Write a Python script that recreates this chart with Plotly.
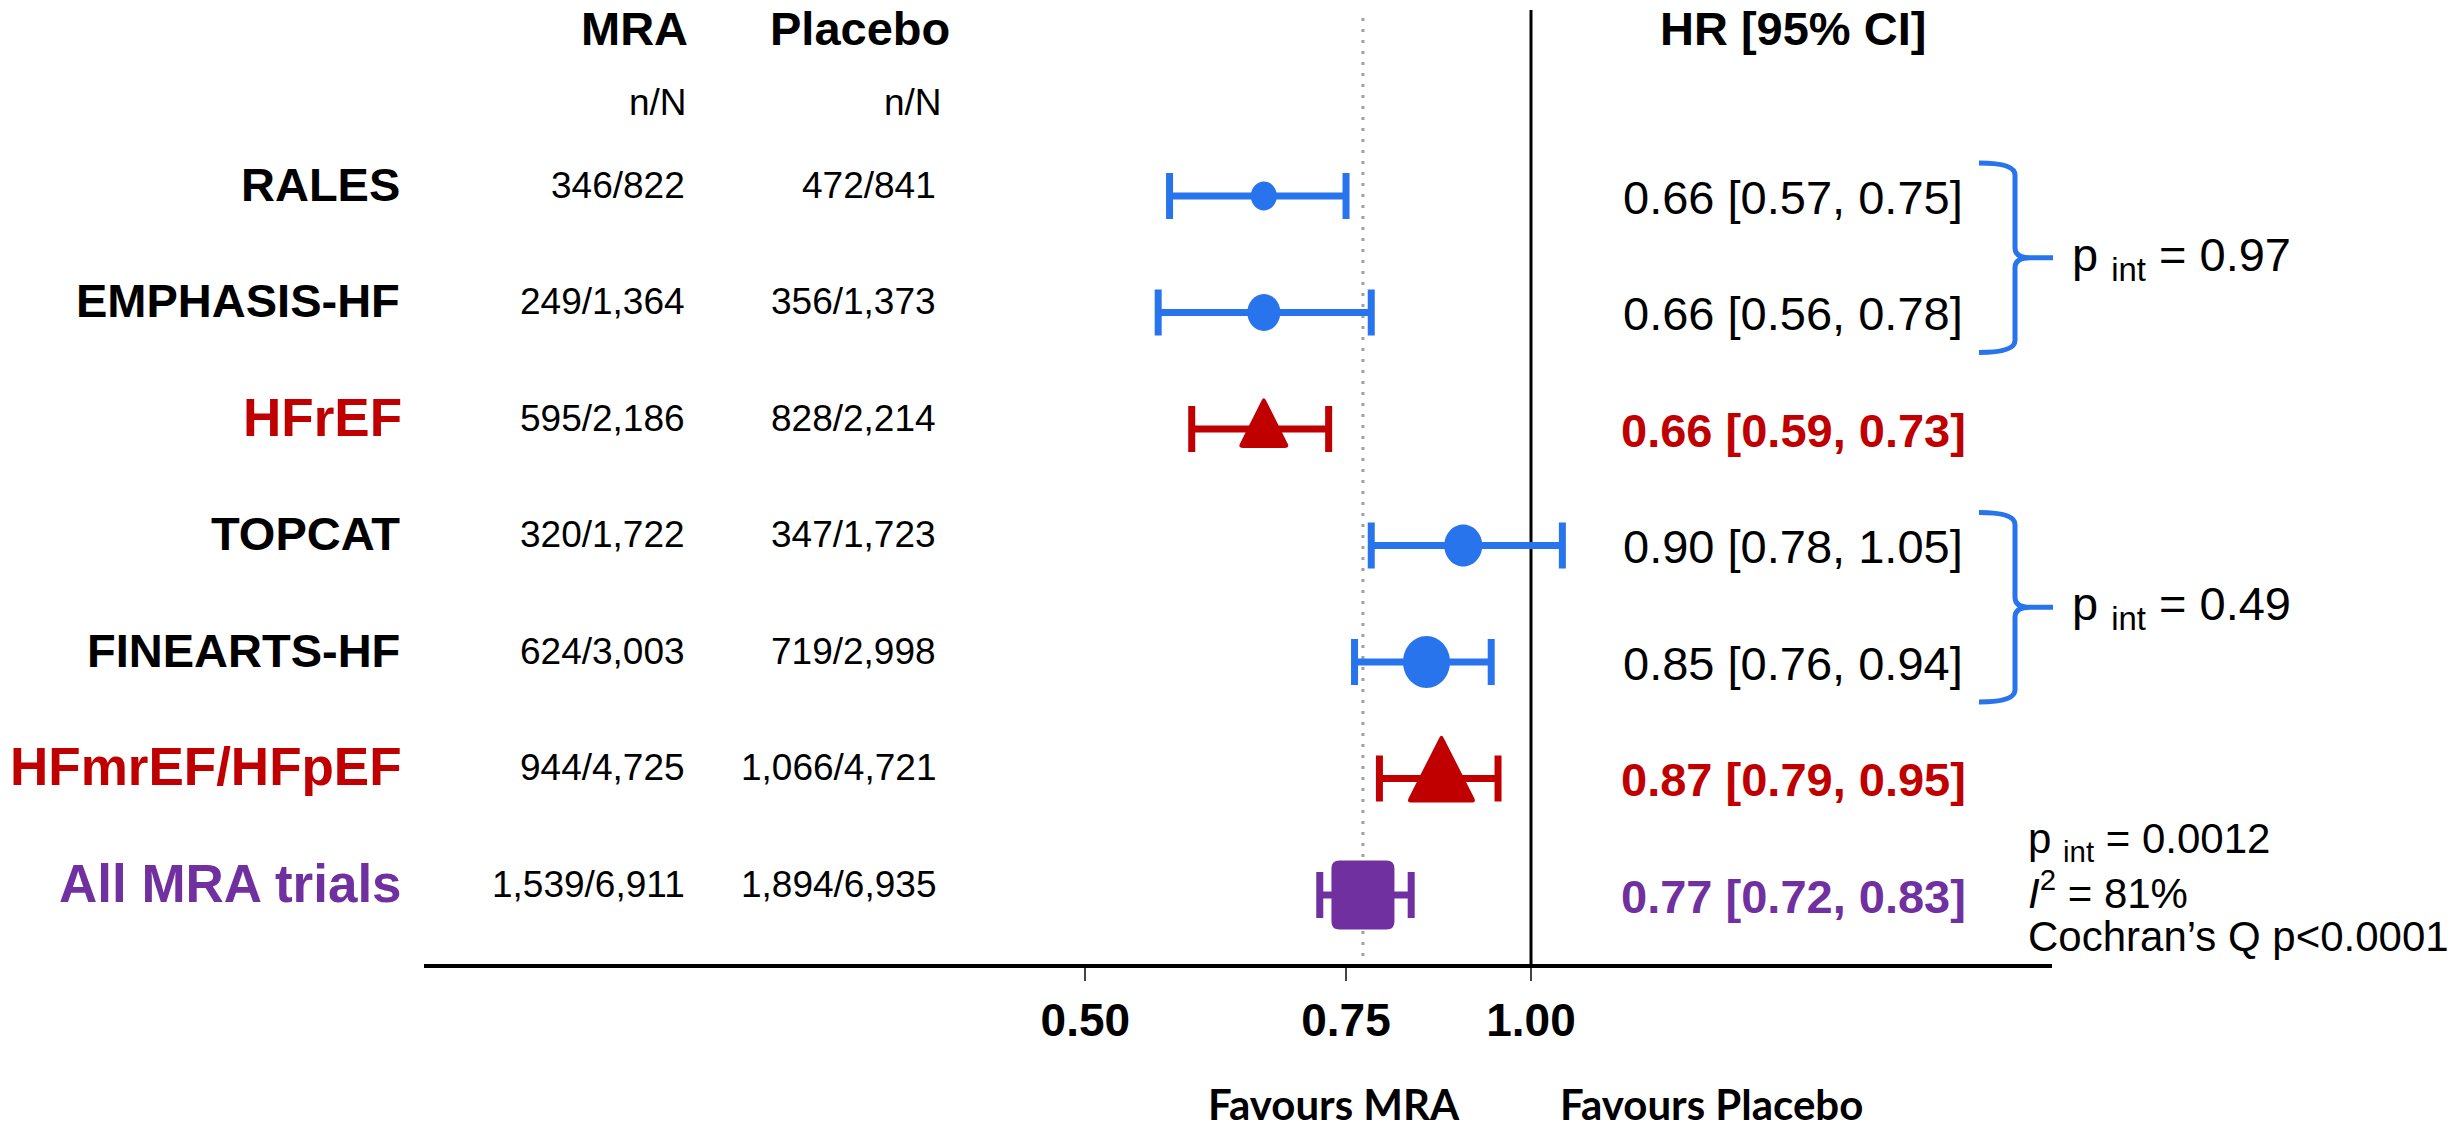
import plotly.graph_objects as go
import math

# ---------------- data ----------------
labels = ["RALES", "EMPHASIS-HF", "HFrEF", "TOPCAT", "FINEARTS-HF", "HFmrEF/HFpEF", "All MRA trials"]
mra_nN = ["346/822", "249/1,364", "595/2,186", "320/1,722", "624/3,003", "944/4,725", "1,539/6,911"]
placebo_nN = ["472/841", "356/1,373", "828/2,214", "347/1,723", "719/2,998", "1,066/4,721", "1,894/6,935"]
hr = [0.66, 0.66, 0.66, 0.90, 0.85, 0.87, 0.77]
ci_low = [0.57, 0.56, 0.59, 0.78, 0.76, 0.79, 0.72]
ci_high = [0.75, 0.78, 0.73, 1.05, 0.94, 0.95, 0.83]
row_kind = ["trial", "trial", "pooled", "trial", "trial", "pooled", "overall"]
p_int_groups = [(0, 1, "0.97"), (3, 4, "0.49")]
overall_stats = ["p <sub>int</sub> = 0.0012", "<i>I</i><sup>2</sup> = 81%", "Cochran’s Q p&lt;0.0001"]
tick_vals = [0.50, 0.75, 1.00]
tick_text = ["0.50", "0.75", "1.00"]

# ---------------- styles ----------------
W, H = 2456, 1133
ROW0, STEP = 196, 116.5
BLUE, RED, PURPLE = "#2874EC", "#C00000", "#7030A0"
kind_color = {"trial": BLUE, "pooled": RED, "overall": PURPLE}
label_color = {"trial": "black", "pooled": RED, "overall": PURPLE}
FONT = "Liberation Sans, Arial, sans-serif"
# marker half-width, half-height (px) per row; triangles: (half-width, top, bottom)
marker_dims = [(13, 14.5), (16.5, 18.5), (26, 33, 19), (19, 21), (23.5, 26), (35, 45, 24), (31.5, 34.5)]

PX_PER_LOG10 = 643 * math.log(10)
X_ONE = 1531
xrange_ = [-X_ONE / PX_PER_LOG10, (W - X_ONE) / PX_PER_LOG10]
yrange_ = [(H - ROW0) / STEP, -ROW0 / STEP]


def px_x(p):
    return p / W


def px_y(p):
    return 1 - p / H


def row_px(i):
    return ROW0 + STEP * i


def rounded_poly(pts, r):
    n = len(pts)
    out = []
    for k in range(n):
        p0, p1, p2 = pts[k - 1], pts[k], pts[(k + 1) % n]

        def toward(a, b, d):
            dx, dy = b[0] - a[0], b[1] - a[1]
            L = math.hypot(dx, dy)
            return (a[0] + dx / L * d, a[1] + dy / L * d)
        a = toward(p1, p0, r)
        b = toward(p1, p2, r)
        out.append(("L" if out else "M") + f"{a[0]:.2f},{a[1]:.2f}")
        out.append(f"Q{p1[0]:.2f},{p1[1]:.2f} {b[0]:.2f},{b[1]:.2f}")
    return " ".join(out) + " Z"


def ellipse_path(rx, ry):
    k = 0.5523
    return (f"M{rx},0 C{rx},{k*ry:.2f} {k*rx:.2f},{ry} 0,{ry} "
            f"C{-k*rx:.2f},{ry} {-rx},{k*ry:.2f} {-rx},0 "
            f"C{-rx},{-k*ry:.2f} {-k*rx:.2f},{-ry} 0,{-ry} "
            f"C{k*rx:.2f},{-ry} {rx},{-k*ry:.2f} {rx},0 Z")


fig = go.Figure()
shapes = []
annotations = []

# reference lines
shapes.append(dict(type="line", xref="x", yref="paper", x0=hr[6], x1=hr[6],
                   y0=px_y(18), y1=px_y(966), line=dict(color="#A0A0A0", width=3, dash="3px,8px"),
                   layer="below"))
shapes.append(dict(type="line", xref="x", yref="paper", x0=1.0, x1=1.0,
                   y0=px_y(10), y1=px_y(966), line=dict(color="black", width=3), layer="below"))
# axis baseline
shapes.append(dict(type="line", xref="paper", yref="paper", x0=px_x(424), x1=px_x(2052),
                   y0=px_y(966), y1=px_y(966), line=dict(color="black", width=4)))

for i in range(len(labels)):
    col = kind_color[row_kind[i]]
    fig.add_trace(go.Scatter(
        x=[hr[i]], y=[i], mode="markers",
        marker=dict(size=2, color=col),
        error_x=dict(type="data", symmetric=False, array=[ci_high[i] - hr[i]],
                     arrayminus=[hr[i] - ci_low[i]], color=col, thickness=7, width=23),
        showlegend=False, hoverinfo="skip"))
    d = marker_dims[i]
    common = dict(type="path", xref="x", yref="y", xsizemode="pixel", ysizemode="pixel",
                  xanchor=hr[i], yanchor=i, fillcolor=col, line=dict(width=0))
    if row_kind[i] == "trial":
        shapes.append(dict(path=ellipse_path(d[0], d[1]), **common))
    elif row_kind[i] == "pooled":
        pts = [(0, d[1]), (d[0], -d[2]), (-d[0], -d[2])]
        shapes.append(dict(path=rounded_poly(pts, 5), **common))
    else:
        pts = [(-d[0], d[1]), (d[0], d[1]), (d[0], -d[1]), (-d[0], -d[1])]
        shapes.append(dict(path=rounded_poly(pts, 8), **common))

    # table text
    big = row_kind[i] != "trial"
    annotations.append(dict(xref="paper", yref="y", x=px_x(404 if big else 402), y=i, yshift=12,
                            text=f"<b>{labels[i]}</b>", showarrow=False, xanchor="right", yanchor="middle",
                            font=dict(family=FONT, size=53 if big else 47, color=label_color[row_kind[i]])))
    annotations.append(dict(xref="paper", yref="y", x=px_x(687), y=i, yshift=11, text=mra_nN[i],
                            showarrow=False, xanchor="right", yanchor="middle",
                            font=dict(family=FONT, size=37, color="black")))
    annotations.append(dict(xref="paper", yref="y", x=px_x(938), y=i, yshift=11, text=placebo_nN[i],
                            showarrow=False, xanchor="right", yanchor="middle",
                            font=dict(family=FONT, size=37, color="black")))
    hr_txt = f"{hr[i]:.2f} [{ci_low[i]:.2f}, {ci_high[i]:.2f}]"
    if big:
        hr_txt = f"<b>{hr_txt}</b>"
    annotations.append(dict(xref="paper", yref="y", x=px_x(1793), y=i, yshift=-1, text=hr_txt,
                            showarrow=False, xanchor="center", yanchor="middle",
                            font=dict(family=FONT, size=47, color=label_color[row_kind[i]])))

# headers
for txt, xr, yp, size in [("<b>MRA</b>", 690, 28, 47), ("<b>Placebo</b>", 952, 28, 47),
                          ("n/N", 689, 102, 37), ("n/N", 944, 102, 37)]:
    annotations.append(dict(xref="paper", yref="paper", x=px_x(xr), y=px_y(yp), text=txt,
                            showarrow=False, xanchor="right", yanchor="middle",
                            font=dict(family=FONT, size=size, color="black")))
annotations.append(dict(xref="paper", yref="paper", x=px_x(1793), y=px_y(28), text="<b>HR [95% CI]</b>",
                        showarrow=False, xanchor="center", yanchor="middle",
                        font=dict(family=FONT, size=47, color="black")))

# interaction brackets
for a, b, pv in p_int_groups:
    top = row_px(a) - 33
    bot = row_px(b) + 40
    tip = (top + bot) / 2
    xl, xv, xt = 1979, 2015, 2053
    pts = [
        ("M", xl, top), ("Q", xv, top, xv, top + 12), ("L", xv, tip - 10),
        ("Q", xv, tip, xv + 15, tip), ("L", xt, tip), ("M", xv + 15, tip),
        ("Q", xv, tip, xv, tip + 10), ("L", xv, bot - 12), ("Q", xv, bot, xl, bot),
    ]
    segs = []
    for s in pts:
        if s[0] == "Q":
            segs.append(f"Q{px_x(s[1]):.5f},{px_y(s[2]):.5f} {px_x(s[3]):.5f},{px_y(s[4]):.5f}")
        else:
            segs.append(f"{s[0]}{px_x(s[1]):.5f},{px_y(s[2]):.5f}")
    shapes.append(dict(type="path", xref="paper", yref="paper", path=" ".join(segs),
                       line=dict(color=BLUE, width=5)))
    annotations.append(dict(xref="paper", yref="paper", x=px_x(2070), y=px_y(tip), text=f"p <sub>int</sub> = {pv}",
                            showarrow=False, xanchor="left", yanchor="middle",
                            font=dict(family=FONT, size=47, color="black")))

# overall heterogeneity stats
for txt, yp in zip(overall_stats, [841, 890, 937]):
    annotations.append(dict(xref="paper", yref="paper", x=px_x(2026), y=px_y(yp), text=txt,
                            showarrow=False, xanchor="left", yanchor="middle",
                            font=dict(family=FONT, size=42, color="black")))

# favours labels
for txt, xc in [("Favours MRA", 1334), ("Favours Placebo", 1711)]:
    annotations.append(dict(xref="paper", yref="paper", x=px_x(xc), y=px_y(1104), text=f"<b>{txt}</b>",
                            showarrow=False, xanchor="center", yanchor="middle",
                            font=dict(family="Lato, sans-serif", size=42, color="black")))

fig.update_layout(
    width=W, height=H, margin=dict(l=0, r=0, t=0, b=0),
    paper_bgcolor="white", plot_bgcolor="white",
    shapes=shapes, annotations=annotations, hovermode=False,
    xaxis=dict(type="log", range=xrange_, showgrid=False, zeroline=False, showline=False,
               tickvals=tick_vals, ticktext=tick_text, ticks="outside", ticklen=14, tickwidth=2,
               tickcolor="#444444", anchor="free", position=1 - 966 / H, side="bottom",
               tickfont=dict(family=FONT, size=46, color="black", weight="bold"), fixedrange=True),
    yaxis=dict(range=yrange_, visible=False, fixedrange=True),
)

fig.write_html("out.html")
